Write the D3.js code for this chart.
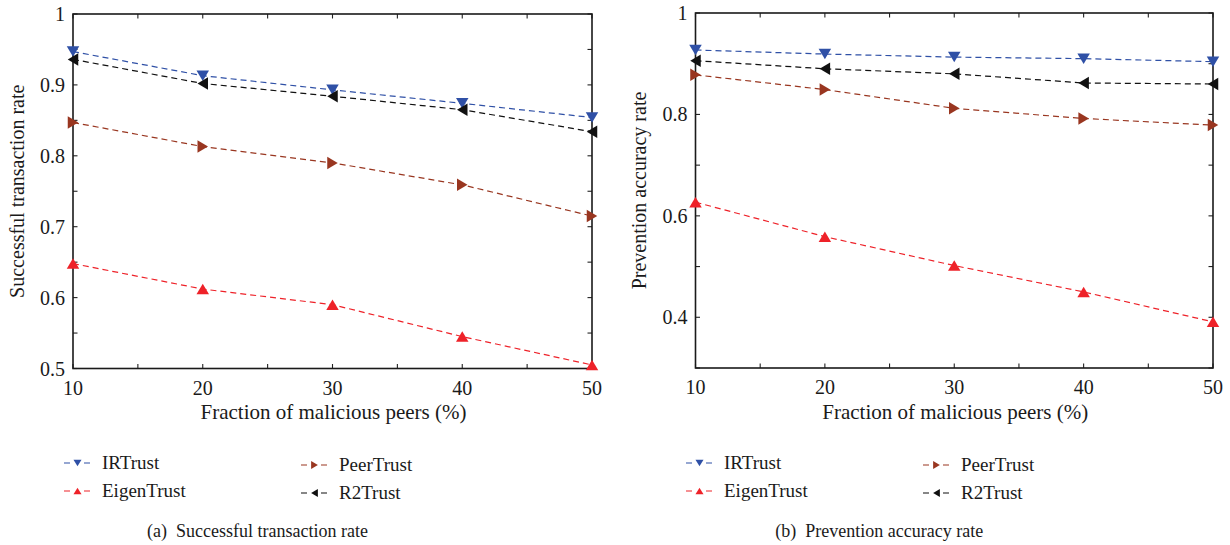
<!DOCTYPE html>
<html lang="en">
<head>
    <meta charset="UTF-8">
    <title>Trust comparison</title>
    <style>
        body, html {
            margin: 0;
            padding: 0;
            background: #fff;
            overflow: hidden;
        }
        #chart text {
            font-family: "Times New Roman", Times, "Liberation Serif", serif;
            fill: #1a1a1a;
        }
    </style>
</head>
<body>
    <svg id="chart" width="1230" height="545"></svg>

    <script src="https://cdnjs.cloudflare.com/ajax/libs/d3/7.8.5/d3.min.js"></script>
    <script>
        // x values: fraction of malicious peers (%)
        const fractions = [10, 20, 30, 40, 50];
        const seriesNames = ["IRTrust", "EigenTrust", "PeerTrust", "R2Trust"];
        const seriesColors = ["#2f50a6", "#ee2229", "#993620", "#111111"];
        const seriesMarkers = ["down", "up", "right", "left"];

        // (a) successful transaction rate
        const successIR = [0.947, 0.913, 0.893, 0.874, 0.854];
        const successEigen = [0.648, 0.612, 0.590, 0.545, 0.505];
        const successPeer = [0.847, 0.813, 0.790, 0.759, 0.715];
        const successR2 = [0.936, 0.902, 0.884, 0.865, 0.834];

        // (b) prevention accuracy rate
        const preventIR = [0.927, 0.919, 0.913, 0.910, 0.904];
        const preventEigen = [0.627, 0.559, 0.502, 0.450, 0.391];
        const preventPeer = [0.878, 0.849, 0.812, 0.792, 0.779];
        const preventR2 = [0.906, 0.890, 0.880, 0.862, 0.860];

        const xTicks = [10, 20, 30, 40, 50];
        const successTicks = [0.5, 0.6, 0.7, 0.8, 0.9, 1];
        const preventTicks = [0.4, 0.6, 0.8, 1];

        const svg = d3.select("#chart");

        const panels = [
            {
                left: 73, right: 592, top: 14, bottom: 368.5,
                yDomain: [0.5, 1], yStep: 0.05, yTicks: successTicks,
                yLabel: "Successful transaction rate", yLabelX: 18,
                caption: "(a)  Successful transaction rate",
                series: [successIR, successEigen, successPeer, successR2],
                legendX: 63
            },
            {
                left: 695.5, right: 1213, top: 13, bottom: 368,
                yDomain: [0.3, 1], yStep: 0.1, yTicks: preventTicks,
                yLabel: "Prevention accuracy rate", yLabelX: 640,
                caption: "(b)  Prevention accuracy rate",
                series: [preventIR, preventEigen, preventPeer, preventR2],
                legendX: 685
            }
        ];

        function markerPath(kind, s) {
            // triangle of width s, height h, centred on 0,0
            const w = s / 2, h = s * 0.42;
            if (kind === "down") return `M${-w},${-h}L${w},${-h}L0,${h}Z`;
            if (kind === "up") return `M${-w},${h}L${w},${h}L0,${-h}Z`;
            if (kind === "right") return `M${-h},${-w}L${-h},${w}L${h},0Z`;
            return `M${h},${-w}L${h},${w}L${-h},0Z`;
        }

        panels.forEach(p => {
            const x = d3.scaleLinear().domain([10, 50]).range([p.left, p.right]);
            const y = d3.scaleLinear().domain(p.yDomain).range([p.bottom, p.top]);
            const g = svg.append("g");

            const minorX = d3.range(10, 50.01, 5);
            const minorY = d3.range(p.yDomain[0], p.yDomain[1] + 1e-6, p.yStep);
            const tickLen = 4.5;

            // inward ticks on all four sides
            const tk = g.append("g").attr("stroke", "#222").attr("stroke-width", 1.1);
            minorX.forEach(v => {
                tk.append("line").attr("x1", x(v)).attr("x2", x(v))
                    .attr("y1", p.bottom).attr("y2", p.bottom - tickLen);
                tk.append("line").attr("x1", x(v)).attr("x2", x(v))
                    .attr("y1", p.top).attr("y2", p.top + tickLen);
            });
            minorY.forEach(v => {
                tk.append("line").attr("y1", y(v)).attr("y2", y(v))
                    .attr("x1", p.left).attr("x2", p.left + tickLen);
                tk.append("line").attr("y1", y(v)).attr("y2", y(v))
                    .attr("x1", p.right).attr("x2", p.right - tickLen);
            });

            // frame
            g.append("rect")
                .attr("x", p.left).attr("y", p.top)
                .attr("width", p.right - p.left).attr("height", p.bottom - p.top)
                .attr("fill", "none").attr("stroke", "#1a1a1a").attr("stroke-width", 1.6);

            // tick labels
            g.selectAll(".xl").data(xTicks).enter().append("text")
                .attr("x", d => x(d)).attr("y", p.bottom + 26)
                .attr("text-anchor", "middle").attr("font-size", 20)
                .text(d => d);
            g.selectAll(".yl").data(p.yTicks).enter().append("text")
                .attr("x", p.left - 8).attr("y", d => y(d) + 7)
                .attr("text-anchor", "end").attr("font-size", 20)
                .text(d => d3.format("~g")(d));

            // axis titles
            g.append("text")
                .attr("x", (p.left + p.right) / 2 + 1).attr("y", 419)
                .attr("text-anchor", "middle").attr("font-size", 21)
                .text("Fraction of malicious peers (%)");
            g.append("text")
                .attr("transform", `translate(${p.yLabelX + 6},${(p.top + p.bottom) / 2}) rotate(-90)`)
                .attr("text-anchor", "middle").attr("font-size", 20)
                .text(p.yLabel);

            // series
            const line = d3.line().x((d, i) => x(fractions[i])).y(d => y(d));
            p.series.forEach((vals, si) => {
                g.append("path").datum(vals)
                    .attr("d", line)
                    .attr("fill", "none")
                    .attr("stroke", seriesColors[si])
                    .attr("stroke-width", 1.2)
                    .attr("stroke-dasharray", "6,4");
                g.selectAll(null).data(vals).enter().append("path")
                    .attr("transform", (d, i) => `translate(${x(fractions[i])},${y(d)})`)
                    .attr("d", markerPath(seriesMarkers[si], 12.5))
                    .attr("fill", seriesColors[si]);
            });

            // legend: two columns, two rows
            const lg = g.append("g");
            seriesNames.forEach((name, si) => {
                const col = si < 2 ? 0 : 1;
                const row = si % 2;
                const lx = p.legendX + col * 237;
                const ly = 463 + row * 28 + (col === 1 ? 2 : 0);
                lg.append("line")
                    .attr("x1", lx).attr("x2", lx + 29)
                    .attr("y1", ly).attr("y2", ly)
                    .attr("stroke", seriesColors[si])
                    .attr("stroke-width", 1.2)
                    .attr("stroke-dasharray", "6,4")
                    .attr("stroke-dashoffset", -1);
                lg.append("line")
                    .attr("x1", lx + 9).attr("x2", lx + 20)
                    .attr("y1", ly).attr("y2", ly)
                    .attr("stroke", "#fff").attr("stroke-width", 3);
                lg.append("path")
                    .attr("transform", `translate(${lx + 14.5},${ly})`)
                    .attr("d", markerPath(seriesMarkers[si], 8))
                    .attr("fill", seriesColors[si]);
                lg.append("text")
                    .attr("x", lx + 39).attr("y", ly + 6)
                    .attr("font-size", 19)
                    .text(name);
            });

            // caption
            g.append("text")
                .attr("x", (p.left + p.right) / 2 - 75).attr("y", 537)
                .attr("text-anchor", "middle").attr("font-size", 18)
                .style("white-space", "pre")
                .text(p.caption);
        });
    </script>
</body>
</html>
